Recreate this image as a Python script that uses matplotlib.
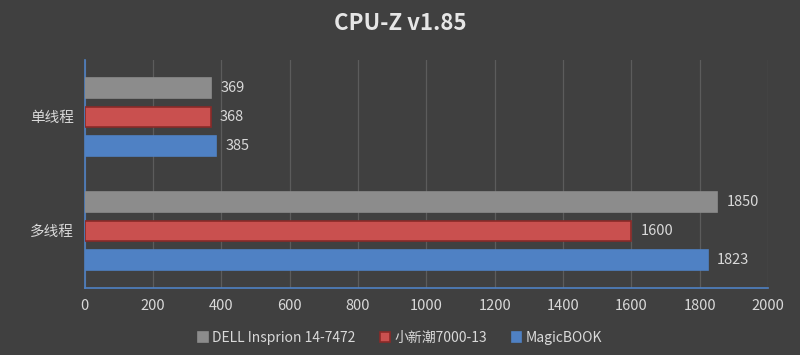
import numpy as np
import matplotlib.pyplot as plt

plt.rcParams['font.family'] = ['Noto Sans CJK SC', 'DejaVu Sans']

categories = ['单线程', '多线程']
series = ['DELL Insprion 14-7472', '小新潮7000-13', 'MagicBOOK']
dell = [369, 1850]
xiaoxin = [368, 1600]
magic = [385, 1823]
xticks = [0, 200, 400, 600, 800, 1000, 1200, 1400, 1600, 1800, 2000]

colors = ['#8c8c8c', '#c9504f', '#4f81c4']
edges = ['#8c8c8c', '#8a2a28', '#4f81c4']
bg = '#404040'
txt = '#d9d9d9'

fig = plt.figure(figsize=(8, 3.55), dpi=100, facecolor=bg)
ax = fig.add_axes([0.106, 0.189, 0.854, 0.642], facecolor=bg)

y = np.arange(len(categories))
pitch = 0.254
h = 0.175
for i, (vals, name) in enumerate(zip([dell, xiaoxin, magic], series)):
    pos = y + (i - 1) * pitch
    ax.barh(pos, vals, height=h, color=colors[i], edgecolor=edges[i],
            linewidth=1.2, label=name, zorder=3)
    for p, v in zip(pos, vals):
        ax.text(v + 28, p, str(v), va='center', ha='left', color=txt, fontsize=10.5)

ax.set_xlim(0, 2000)
ax.set_ylim(1.5, -0.5)
ax.set_xticks(xticks)
ax.set_yticks(y)
ax.set_yticklabels(categories)
ax.tick_params(colors=txt, labelsize=10.5, length=0)
ax.tick_params(axis='y', pad=8)
ax.tick_params(axis='x', pad=8)
ax.grid(axis='x', color='#5c5c5c', linewidth=0.9, zorder=0)
for s in ['top', 'right']:
    ax.spines[s].set_visible(False)
ax.spines['left'].set_color('#4f81c4')
ax.spines['bottom'].set_color('#4f81c4')
ax.spines['left'].set_linewidth(1.2)
ax.spines['bottom'].set_linewidth(1.2)

fig.text(0.5, 0.935, 'CPU-Z v1.85', ha='center', va='center', color='#e6e6e6',
         fontsize=16, fontweight='bold')

leg = fig.legend(loc='center', bbox_to_anchor=(0.5, 0.048), ncol=3, frameon=False,
                 fontsize=10, handlelength=0.7, handleheight=0.7, handletextpad=0.3,
                 columnspacing=1.8)
for t in leg.get_texts():
    t.set_color(txt)

fig.savefig('out.png', dpi=100, facecolor=bg)
